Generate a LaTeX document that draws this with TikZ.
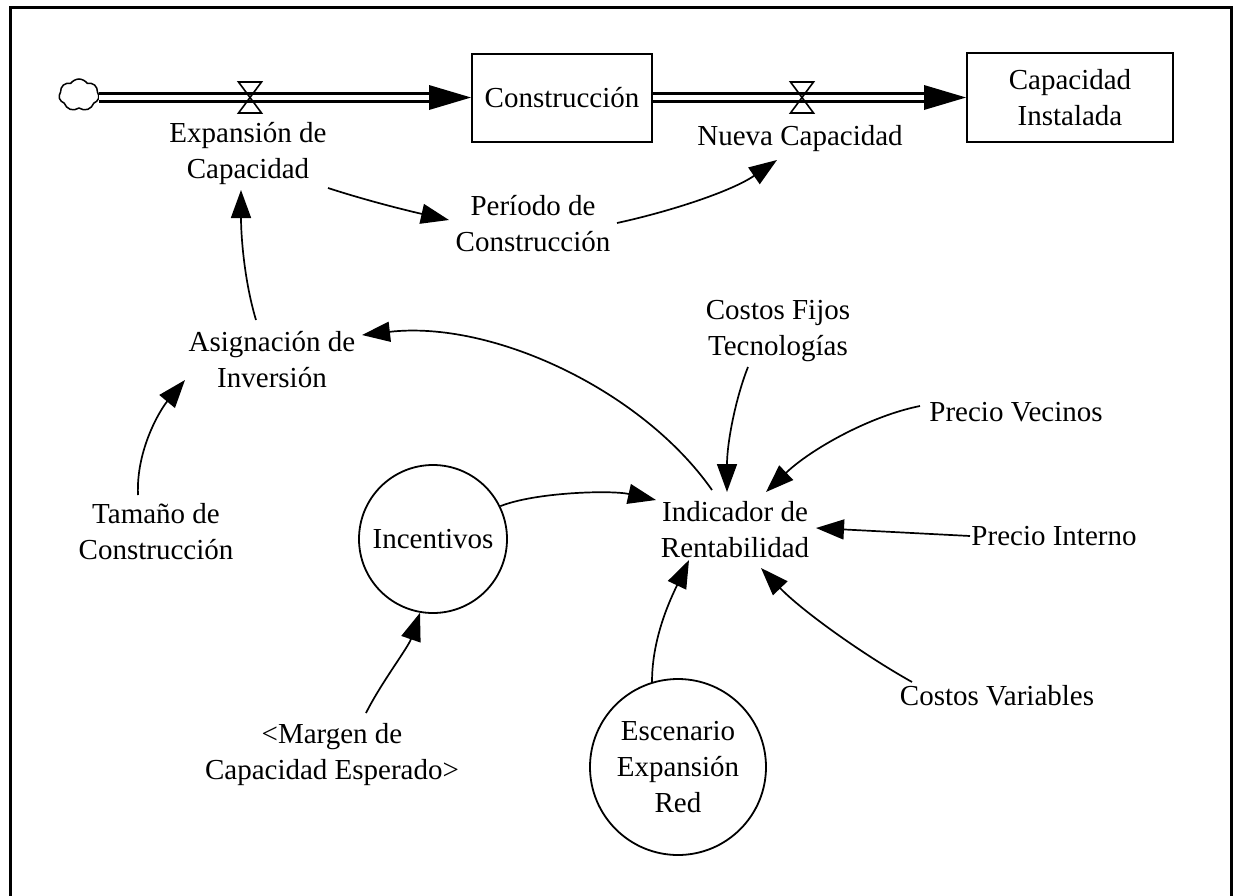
\documentclass[tikz,border=0pt]{standalone}
\usepackage{fontspec}
\setmainfont{Liberation Serif}
\usetikzlibrary{arrows.meta,shapes.symbols}
\begin{document}
\begin{tikzpicture}[x=1pt,y=-1pt,
  txt/.style={font=\fontsize{29pt}{36pt}\selectfont},
  lbl/.style={txt, inner sep=0pt, align=center},
  stockbox/.style={txt, draw, line width=2pt, inner sep=0pt, align=center},
  auxcircle/.style={txt, draw, circle, line width=1.8pt, inner sep=0pt, align=center},
  link/.style={line width=1.7pt, -{Triangle[length=28pt,width=20pt]}},
  pipe/.style={double, double distance=5.8pt, line width=2.2pt},
  valveline/.style={line width=1.6pt, line join=miter},
  frame/.style={line width=3pt}
]
\useasboundingbox (0,0) rectangle (1235,895);

% outer frame (open at the bottom)
\draw[frame] (10.5,896) -- (10.5,7.5) -- (1231.5,7.5) -- (1231.5,896);

% stocks and source
\node[stockbox, minimum width=180pt, minimum height=88pt] (con) at (562,97.5) {Construcción};
\node[stockbox, minimum width=206pt, minimum height=89pt] (cap) at (1070,97.5) {Capacidad\\Instalada};
\node[draw, cloud, cloud puffs=7, cloud puff arc=110, aspect=1.2, minimum width=40pt, minimum height=32pt,
      inner sep=0pt, line width=1.5pt] (src) at (79,95) {};

% flows
\draw[pipe] (src.east |- con.west) -- ([xshift=-40pt]con.west);
\fill (con.west) -- ++(-42,-12.5) -- ++(0,25) -- cycle;
\draw[pipe] (con.east) -- ([xshift=-40pt]cap.west);
\fill (cap.west) -- ++(-42,-12.5) -- ++(0,25) -- cycle;

% valves
\coordinate (v1) at (250,97.5);
\coordinate (v2) at (802,97.5);
\draw[valveline] (v1) -- ++(-11.5,-15.5) -- ++(23,0) -- cycle;
\draw[valveline] (v1) -- ++(-11.5,15.5) -- ++(23,0) -- cycle;
\draw[valveline] (v2) -- ++(-11.5,-15.5) -- ++(23,0) -- cycle;
\draw[valveline] (v2) -- ++(-11.5,15.5) -- ++(23,0) -- cycle;

% variables
\node[lbl] (exp) at (248,153.5) {Expansión de\\Capacidad};
\node[lbl] (nueva) at (800,139) {Nueva Capacidad};
\node[lbl] (per) at (533,224) {Período de\\Construcción};
\node[lbl] (asig) at (272,359.5) {Asignación de\\Inversión};
\node[lbl] (cf) at (778,331.5) {Costos Fijos\\Tecnologías};
\node[lbl] (pv) at (1016,412) {Precio Vecinos};
\node[lbl] (ind) at (735,529.5) {Indicador de\\Rentabilidad};
\node[lbl] (pi) at (1054,536) {Precio Interno};
\node[lbl] (tam) at (156,531.5) {Tamaño de\\Construcción};
\node[lbl] (cv) at (997,696) {Costos Variables};
\node[lbl] (mar) at (332,754.5) {<Margen de\\Capacidad Esperado>};
\node[auxcircle, minimum size=148pt] (inc) at (433,539) {Incentivos};
\node[auxcircle, minimum size=176pt] (esc) at (678,767) {Escenario\\Expansión\\Red};

% influences
\draw[link] ([shift={(80,34.5)}]exp.center) .. controls +(40,13) and +(-40,-9) .. ([shift={(-84,-4)}]per.center);
\draw[link] ([shift={(84,-1)}]per.center) .. controls +(55,-12) and +(-45,31) .. ([shift={(-23,21)}]nueva.center);
\draw[link] ([shift={(-16,-39.5)}]asig.center) .. controls +(-12,-40) and +(0,45) .. ([shift={(-7,36.5)}]exp.center);
\draw[link] ([shift={(-18,-36.5)}]tam.center) .. controls +(-2,-45) and +(-25,30) .. ([shift={(-87,20.5)}]asig.center);
\draw[link] ([shift={(-23,-39.5)}]ind.center) .. controls +(-70,-100) and +(130,-15) .. ([shift={(90,-24.5)}]asig.center);
\draw[link] ([shift={(-30,35.5)}]cf.center) .. controls +(-12,30) and +(0,-50) .. ([shift={(-8,-37.5)}]ind.center);
\draw[link] ([shift={(-96,-6)}]pv.center) .. controls +(-50,10) and +(45,-43) .. ([shift={(31,-37.5)}]ind.center);
\draw[link] ([shift={(-84,0)}]pi.center) -- ([shift={(81,-1.5)}]ind.center);
\draw[link] ([shift={(-85,-14)}]cv.center) .. controls +(-50,-28) and +(40,42) .. ([shift={(26,38.5)}]ind.center);
\draw[link] (inc.26) .. controls +(35,-14) and +(-45,-10) .. ([shift={(-79,-29.5)}]ind.center);
\draw[link] ([shift={(34,-41.5)}]mar.center) .. controls +(15,-30) and +(-12,35) .. (inc.-100);
\draw[link] (esc.107) .. controls +(0,-45) and +(-18,38) .. ([shift={(-46,30.5)}]ind.center);
\end{tikzpicture}
\end{document}
